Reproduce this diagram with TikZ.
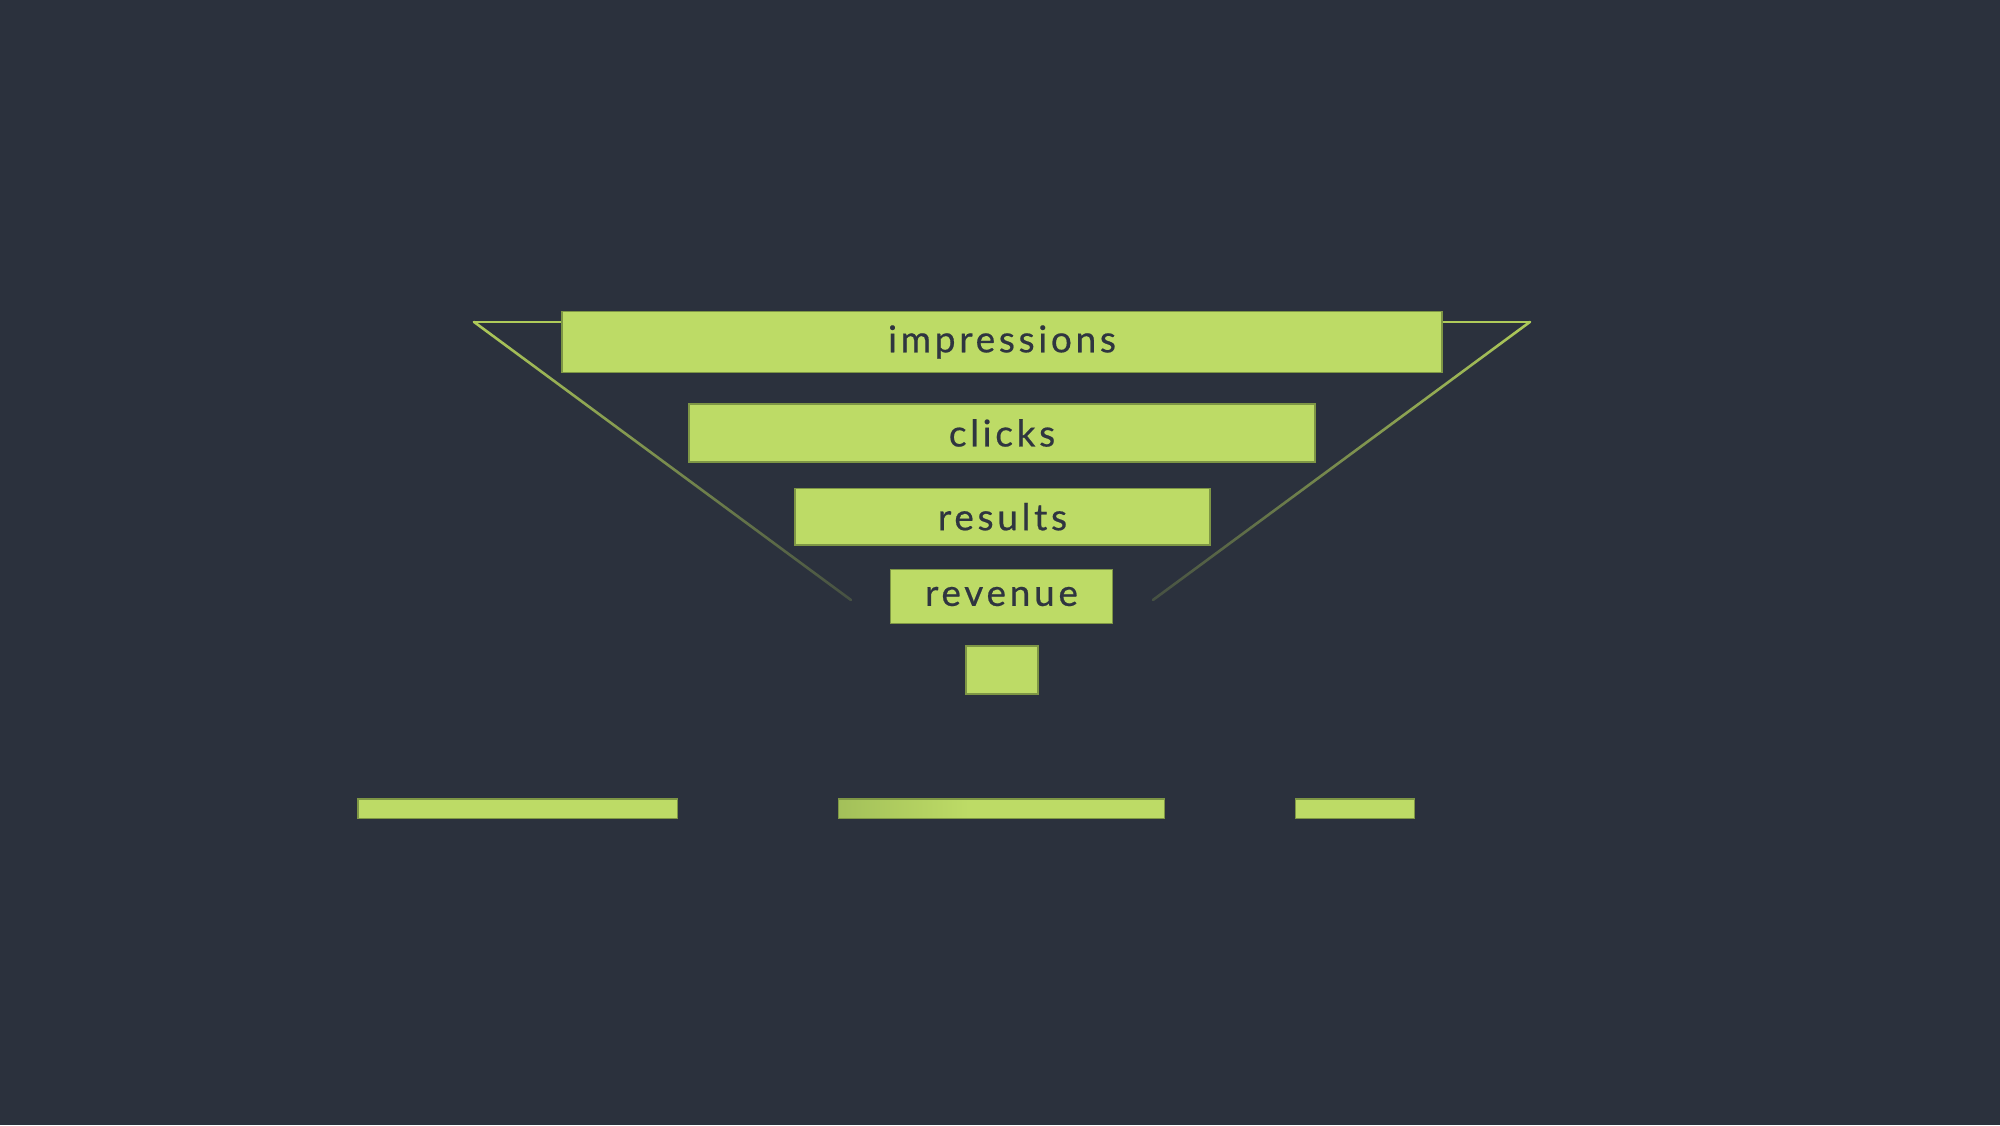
\documentclass[tikz,border=0pt]{standalone}
\usepackage{fontspec}
\newfontfamily\labfont[LetterSpace=10,FakeBold=0.5]{Lato}
\usetikzlibrary{fadings}
\definecolor{bgc}{HTML}{2B313D}
\definecolor{boxc}{HTML}{BDDB66}
\definecolor{edgec}{HTML}{7E9645}
\definecolor{txtc}{HTML}{2F3540}
\definecolor{linec}{HTML}{AFCB5A}
\definecolor{darkol}{HTML}{84A04B}
\pgfdeclarelayer{glow}
\pgfsetlayers{glow,main}
\tikzfading[name=linefade, top color=transparent!0, bottom color=transparent!80]
\pgfdeclarehorizontalshading{barshade}{100bp}{color(0bp)=(darkol); color(10bp)=(darkol!80!boxc); color(45bp)=(boxc); color(100bp)=(boxc)}
\tikzset{
  stage/.style={draw=edgec, line width=0.8pt, fill=boxc, inner sep=0pt, text=txtc,
    font=\labfont\fontsize{18.5}{22}\selectfont},
  bar/.style={draw=edgec, line width=0.8pt, fill=boxc, inner sep=0pt},
  funnelline/.style={draw=linec, line width=1.3pt, line cap=round, line join=miter},
}
\newcommand\lowered[1]{\raisebox{-1.2pt}{#1}}
\newcommand\glowof[1]{%
  \begin{pgfonlayer}{glow}
  \foreach \g in {3,6,9,12,15}{
    \fill[boxc, opacity=0.035] ([xshift=-\g*0.5pt,yshift=\g*0.5pt]#1.north west) rectangle ([xshift=\g*0.5pt,yshift=-\g*0.5pt]#1.south east);
  }
  \end{pgfonlayer}}
\begin{document}
\begin{tikzpicture}[x=0.5pt,y=-0.5pt]
\fill[bgc] (0,0) rectangle (2000,1125);
\useasboundingbox (0,0) rectangle (2000,1125);
% funnel outline
\coordinate (tl) at (474,322);
\coordinate (tr) at (1530,322);
\coordinate (bl) at (851,600);
\coordinate (br) at (1153,600);
\coordinate (il) at (562,322);
\coordinate (ir) at (1442,322);
\draw[funnelline] (il) -- (tl);
\draw[funnelline] (ir) -- (tr);
\draw[funnelline, path fading=linefade] (tl) -- (bl);
\draw[funnelline, path fading=linefade] (tr) -- (br);
% stages
\node[stage, minimum width=440pt, minimum height=30.5pt] (imp) at (1002,342) {\lowered{impressions}};
\node[stage, minimum width=313.25pt, minimum height=29pt] (clk) at (1002,433) {\lowered{clicks}};
\node[stage, minimum width=207.5pt, minimum height=28.25pt] (res) at (1002.5,516.75) {\lowered{results}};
\node[stage, minimum width=111pt, minimum height=27pt] (rev) at (1001.5,596.5) {\lowered{revenue}};
\node[bar, minimum width=36.25pt, minimum height=23.75pt] (sq) at (1002,670) {};
% bottom bars
\node[bar, minimum width=159.75pt, minimum height=9.75pt] (b1) at (517.75,808.75) {};
\node[bar, shading=barshade, minimum width=163pt, minimum height=9.75pt] (b2) at (1001.5,808.75) {};
\node[bar, minimum width=59.5pt, minimum height=9.75pt] (b3) at (1355,808.75) {};
\foreach \n in {imp,clk,res,rev,sq,b1,b2,b3}{\glowof{\n}}
\end{tikzpicture}
\end{document}
